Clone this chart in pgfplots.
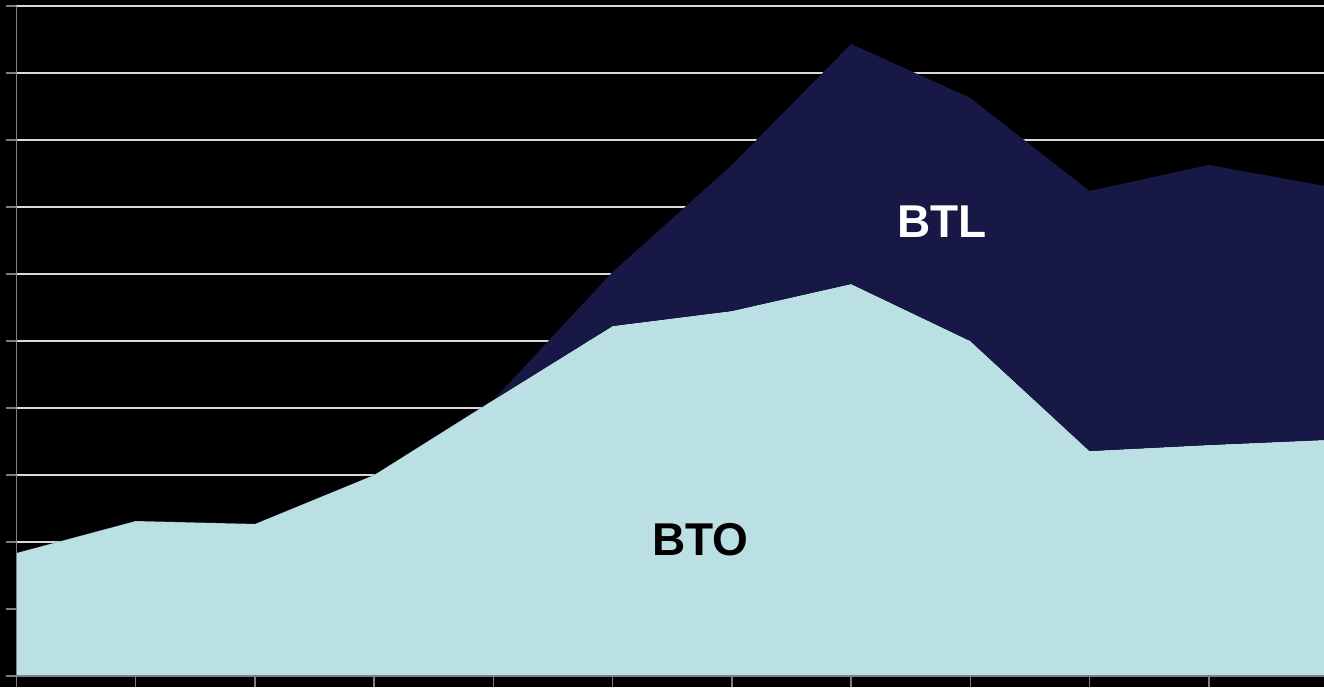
\documentclass[border=0pt]{standalone}
\usepackage{fontspec}
\setmainfont{Liberation Sans}
\usepackage{pgfplots}
\pgfplotsset{compat=1.18}
\definecolor{bto}{RGB}{186,224,227}
\definecolor{btl}{RGB}{23,24,70}
\definecolor{axgray}{RGB}{128,128,128}
\begin{document}
\begin{tikzpicture}
\useasboundingbox (-8.25pt,-5.5pt) rectangle (653.75pt,338pt);
\fill[black] (-8.25pt,-5.5pt) rectangle (653.75pt,338pt);
\begin{scope}
\clip (-8.25pt,-5.5pt) rectangle (653.75pt,338pt);
\begin{axis}[
  at={(0,0)}, anchor=south west,
  scale only axis,
  width=655.75pt, height=335pt,
  xmin=0, xmax=11, ymin=0, ymax=10,
  axis lines=left,
  axis line style={-, draw=axgray, line width=0.75pt},
  xtick={0,1,...,11}, ytick={0,1,...,10},
  xticklabels={}, yticklabels={},
  tick align=outside,
  major tick length=5.5pt,
  tick style={draw=axgray, line width=0.75pt},
  ymajorgrids,
  grid style={draw=white!85!black, line width=0.9pt},
  clip=false,
]
\addplot[stack plots=y, draw=none, fill=bto] coordinates {
 (0,1.836) (1,2.313) (2,2.269) (3,3.0) (4,4.119) (5,5.224) (6,5.448)
 (7,5.851) (8,5.0) (9,3.358) (10,3.448) (11,3.525)
} \closedcycle;
\addplot[stack plots=y, draw=none, fill=btl] coordinates {
 (0,0) (1,0) (2,0) (3,0) (4,0) (5,0.806) (6,2.179)
 (7,3.582) (8,3.627) (9,3.881) (10,4.179) (11,3.78)
} \closedcycle;
\coordinate (btolab) at (axis cs:5.734,2.03);
\coordinate (btllab) at (axis cs:7.764,6.776);
\coordinate (ll) at (rel axis cs:0,0);
\coordinate (ul) at (rel axis cs:0,1);
\coordinate (lr) at (rel axis cs:1,0);
\end{axis}
\draw[axgray, line width=0.75pt] (ul) -- (ll) -- (lr);
\end{scope}
\node[font=\bfseries\fontsize{23}{27}\selectfont, text=black] at (btolab) {BTO};
\node[font=\bfseries\fontsize{23}{27}\selectfont, text=white] at (btllab) {BTL};
\end{tikzpicture}
\end{document}
